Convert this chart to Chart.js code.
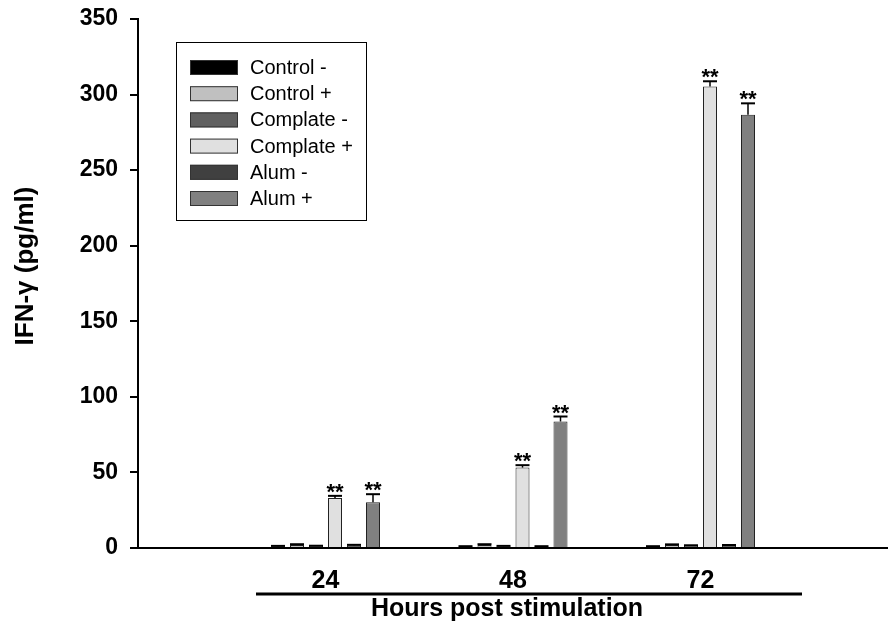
<!DOCTYPE html>
<html>
<head>
<meta charset="utf-8">
<script src="https://cdn.jsdelivr.net/npm/chart.js@4"></script>
<style>
html,body{margin:0;padding:0;background:#fff;}
#wrap{position:relative;width:888px;height:622px;}
</style>
</head>
<body>
<div id="wrap"><canvas id="c" width="888" height="622"></canvas></div>
<script>
// ---- data ----
const hours = ['24', '48', '72'];
const seriesNames = ['Control -', 'Control +', 'Complate -', 'Complate +', 'Alum -', 'Alum +'];
const controlMinus  = [1.2, 1.0, 1.0];
const controlPlus   = [2.0, 2.0, 2.0];
const complateMinus = [1.3, 1.2, 1.5];
const complatePlus  = [33.0, 53.2, 305.3];
const alumMinus     = [1.8, 1.0, 1.7];
const alumPlus      = [30.3, 83.7, 286.7];
const controlMinusErr  = [0.2, 0.2, 0.2];
const controlPlusErr   = [0.5, 0.5, 0.4];
const complateMinusErr = [0.2, 0.2, 0.3];
const complatePlusErr  = [1.5, 1.6, 3.5];
const alumMinusErr     = [0.3, 0.2, 0.3];
const alumPlusErr      = [5.3, 3.3, 7.5];
const significance = [false, false, false, true, false, true]; // "**" marks
const yTicks = [0, 50, 100, 150, 200, 250, 300, 350];
const yTitle = 'IFN-γ (pg/ml)';
const xTitle = 'Hours post stimulation';

const FONT = '"Liberation Sans", Arial, sans-serif';
const fills = ['#000000', '#c0c0c0', '#606060', '#e0e0e0', '#404040', '#808080'];
const values = [controlMinus, controlPlus, complateMinus, complatePlus, alumMinus, alumPlus];
const errs = [controlMinusErr, controlPlusErr, complateMinusErr, complatePlusErr, alumMinusErr, alumPlusErr];

const labels = [''].concat(hours, ['']);
const pad = arr => [null].concat(arr, [null]);

const datasets = seriesNames.map((name, i) => ({
  label: name,
  data: pad(values[i]),
  errors: pad(errs[i]),
  sig: significance[i],
  backgroundColor: fills[i],
  borderColor: '#222',
  borderWidth: 1,
  categoryPercentage: 0.608,
  barPercentage: 0.737
}));

const errorBars = {
  id: 'errorBars',
  afterDatasetsDraw(chart) {
    const ctx = chart.ctx;
    const y = chart.scales.y;
    ctx.save();
    chart.data.datasets.forEach((ds, di) => {
      const meta = chart.getDatasetMeta(di);
      meta.data.forEach((el, i) => {
        const v = ds.data[i];
        if (v === null || v === undefined) return;
        const e = ds.errors[i] || 0;
        const top = y.getPixelForValue(v);
        const ye = y.getPixelForValue(v + e);
        ctx.strokeStyle = '#000';
        ctx.lineWidth = 1.5;
        ctx.beginPath();
        ctx.moveTo(el.x, top);
        ctx.lineTo(el.x, ye);
        ctx.stroke();
        ctx.lineWidth = 2;
        ctx.beginPath();
        ctx.moveTo(el.x - 7, ye);
        ctx.lineTo(el.x + 7, ye);
        ctx.stroke();
        if (ds.sig) {
          ctx.fillStyle = '#000';
          ctx.font = 'bold 22px ' + FONT;
          ctx.textAlign = 'center';
          ctx.textBaseline = 'alphabetic';
          ctx.fillText('**', el.x, ye + 3);
        }
      });
    });
    ctx.restore();
  }
};

const extras = {
  id: 'extras',
  afterDraw(chart) {
    const ctx = chart.ctx;
    ctx.save();
    // y title
    ctx.fillStyle = '#000';
    ctx.font = 'bold 26px ' + FONT;
    ctx.translate(33, 266);
    ctx.rotate(-Math.PI / 2);
    ctx.textAlign = 'center';
    ctx.textBaseline = 'alphabetic';
    ctx.fillText(yTitle, 0, 0);
    ctx.restore();

    ctx.save();
    // x underline and title
    ctx.strokeStyle = '#000';
    ctx.lineWidth = 3;
    ctx.beginPath();
    ctx.moveTo(256, 594);
    ctx.lineTo(802, 594);
    ctx.stroke();
    ctx.fillStyle = '#000';
    ctx.font = 'bold 25px ' + FONT;
    ctx.textAlign = 'center';
    ctx.textBaseline = 'alphabetic';
    ctx.fillText(xTitle, 507, 616);

    // legend
    const lx = 176, ly = 42, lw = 190, lh = 178;
    ctx.lineWidth = 1;
    ctx.strokeStyle = '#000';
    ctx.strokeRect(lx + 0.5, ly + 0.5, lw, lh);
    ctx.font = '20px ' + FONT;
    ctx.textAlign = 'left';
    ctx.textBaseline = 'middle';
    chart.data.datasets.forEach((ds, i) => {
      const cy = 67.5 + i * 26.2;
      ctx.fillStyle = ds.backgroundColor;
      ctx.fillRect(190, cy - 7.5, 48, 15);
      ctx.strokeStyle = '#333';
      ctx.lineWidth = 1;
      ctx.strokeRect(190.5, cy - 7, 47, 14);
      ctx.fillStyle = '#000';
      ctx.fillText(ds.label, 250, cy + 1);
    });
    ctx.restore();
  }
};

new Chart(document.getElementById('c'), {
  type: 'bar',
  data: { labels, datasets },
  options: {
    responsive: false,
    animation: false,
    devicePixelRatio: 1,
    layout: { padding: { top: 19, right: 0, bottom: 0, left: 0 } },
    plugins: { legend: { display: false }, tooltip: { enabled: false } },
    scales: {
      x: {
        offset: false,
        grid: { display: false, drawTicks: false },
        border: { display: true, color: '#000', width: 2 },
        ticks: {
          autoSkip: false,
          maxRotation: 0,
          padding: 18,
          color: '#000',
          font: { family: FONT, size: 25, weight: 'bold' }
        },
        afterFit(s) { s.height = 74; s.paddingLeft = 0; s.paddingRight = 0; }
      },
      y: {
        min: 0,
        max: 350,
        afterBuildTicks(s) { s.ticks = yTicks.map(v => ({ value: v })); },
        grid: { drawOnChartArea: false, drawTicks: true, tickLength: 8, color: '#000', lineWidth: 2 },
        border: { display: true, color: '#000', width: 2 },
        ticks: {
          padding: 12,
          color: '#000',
          font: { family: FONT, size: 23, weight: 'bold' }
        },
        afterFit(s) { s.width = 138; s.paddingTop = 0; s.paddingBottom = 0; }
      }
    }
  },
  plugins: [errorBars, extras]
});
</script>
</body>
</html>
